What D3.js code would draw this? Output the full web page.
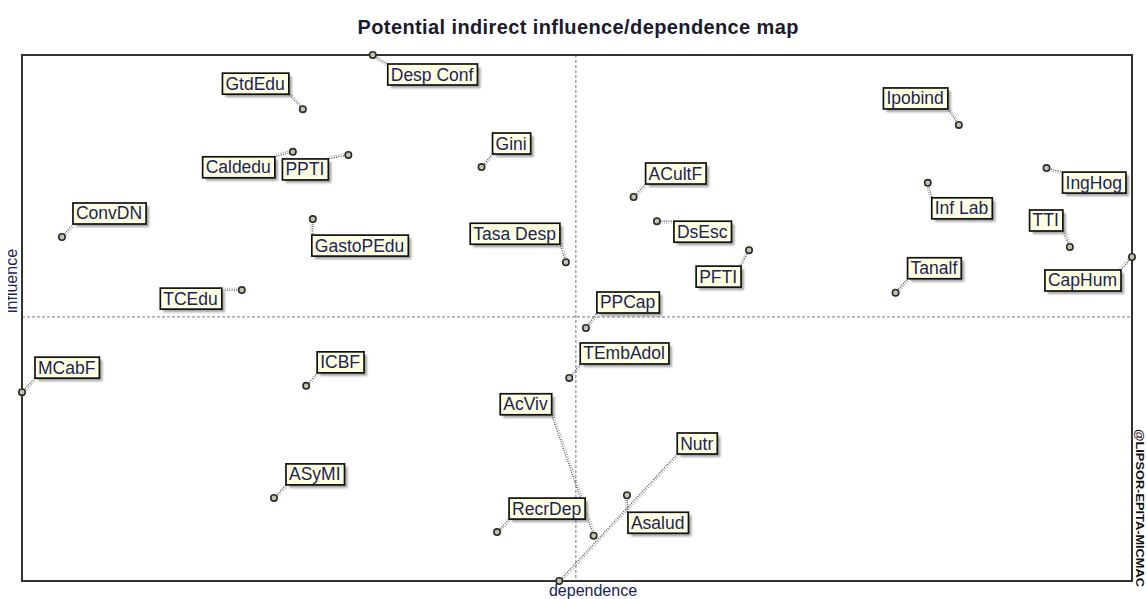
<!doctype html>
<html lang="en">
<head>
<meta charset="UTF-8">
<title>Potential indirect influence/dependence map</title>
<style>
    body { margin: 0; background: #fff; }
    svg { display: block; font-family: "Liberation Sans", Arial, sans-serif; }
    .frame { fill: none; stroke: #333; stroke-width: 2; }
    .mid { stroke: #777; stroke-width: 1; stroke-dasharray: 3,2; }
    .lbl-box { fill: #ffffe1; stroke: #111; stroke-width: 1.7; }
    .lbl-shadow { fill: #666; opacity: 0.6; }
    .lbl-text { font-size: 17.5px; fill: #1b2358; }
    .dot { fill: #c4c4a8; stroke: #2a2a2a; stroke-width: 1.6; }
</style>
</head>
<body>
<div class="chart"></div>
<script src="https://d3js.org/d3.v7.min.js"></script>
<script>
// variables (MICMAC indirect potential), normalised 0-100
const names = ['Desp Conf', 'GtdEdu', 'Caldedu', 'PPTI', 'ConvDN', 'GastoPEdu', 'TCEdu',
    'Gini', 'Tasa Desp', 'ACultF', 'DsEsc', 'PFTI', 'PPCap', 'Ipobind', 'Inf Lab',
    'IngHog', 'TTI', 'Tanalf', 'CapHum', 'MCabF', 'ICBF', 'ASyMI', 'TEmbAdol',
    'AcViv', 'Nutr', 'Asalud', 'RecrDep']
const dependence = [31.6, 25.3, 24.4, 29.4, 3.6, 26.2, 19.8,
    41.4, 49.0, 55.1, 57.2, 65.5, 50.8, 84.4, 81.6,
    92.3, 94.4, 78.7, 100, 0, 25.6, 22.7, 49.3,
    51.5, 48.4, 54.5, 42.8]
const influence = [100, 89.7, 81.6, 81.0, 65.4, 68.8, 55.3,
    78.7, 60.6, 73.0, 68.4, 62.9, 48.1, 86.7, 75.7,
    78.5, 63.5, 54.8, 61.6, 35.9, 37.1, 15.8, 38.6,
    8.6, 0, 16.3, 9.3]
const midDependence = 49.9
const midInfluence = 50.2

// where each label box sits relative to its point: [dx, dy, side of box dx refers to]
const labelPos = {
    'Desp Conf': [15, 9, 'start'], 'GtdEdu': [-14, -36, 'end'], 'Caldedu': [-18, 5, 'end'],
    'PPTI': [-20, 4, 'end'], 'ConvDN': [11, -34, 'start'], 'GastoPEdu': [-1, 16, 'start'],
    'TCEdu': [-20, -2, 'end'], 'Gini': [11, -34, 'start'], 'Tasa Desp': [-6, -39, 'end'],
    'ACultF': [12, -34, 'start'], 'DsEsc': [17, 0, 'start'], 'PFTI': [-8, 16, 'end'],
    'PPCap': [11, -36, 'start'], 'Ipobind': [-11, -37, 'end'], 'Inf Lab': [4, 15, 'start'],
    'IngHog': [16, 4, 'start'], 'TTI': [-7, -37, 'end'], 'Tanalf': [12, -35, 'start'],
    'CapHum': [-11, 13, 'end'], 'MCabF': [13, -35, 'start'], 'ICBF': [11, -34, 'start'],
    'ASyMI': [12, -34, 'start'], 'TEmbAdol': [11, -35, 'start'], 'AcViv': [-42, -142, 'end'],
    'Nutr': [118, -148, 'start'], 'Asalud': [1, 17, 'start'], 'RecrDep': [12, -34, 'start']
}

const W = 1147, H = 599
const plot = { left: 22, right: 1132, top: 55, bottom: 581 }

const data = names.map((n, i) => ({ name: n, dep: dependence[i], inf: influence[i] }))

const x = d3.scaleLinear().domain([0, 100]).range([plot.left, plot.right])
const y = d3.scaleLinear().domain([0, 100]).range([plot.bottom, plot.top])

const svg = d3.select('.chart').append('svg')
    .attr('width', W)
    .attr('height', H)

const defs = svg.append('defs')
defs.append('filter').attr('id', 'soft')
    .append('feGaussianBlur').attr('stdDeviation', 0.8)
defs.append('clipPath').attr('id', 'leftclip')
    .append('rect').attr('x', 8).attr('y', 0).attr('width', 20).attr('height', H)

// title
svg.append('text')
    .attr('x', 578)
    .attr('y', 34)
    .attr('text-anchor', 'middle')
    .attr('textLength', 441)
    .attr('lengthAdjust', 'spacing')
    .style('font-size', '20px')
    .style('font-weight', 'bold')
    .style('fill', '#1a1a2e')
    .text('Potential indirect influence/dependence map')

// quadrant lines
svg.append('line').attr('class', 'mid')
    .attr('x1', x(midDependence)).attr('x2', x(midDependence))
    .attr('y1', plot.top).attr('y2', plot.bottom)
svg.append('line').attr('class', 'mid')
    .attr('x1', plot.left).attr('x2', plot.right)
    .attr('y1', y(midInfluence)).attr('y2', y(midInfluence))

svg.append('rect').attr('class', 'frame')
    .attr('x', plot.left).attr('y', plot.top)
    .attr('width', plot.right - plot.left)
    .attr('height', plot.bottom - plot.top)

// axis titles
svg.append('text')
    .attr('x', 593).attr('y', 596)
    .attr('text-anchor', 'middle')
    .style('font-size', '16px')
    .style('fill', '#1b2358')
    .text('dependence')
svg.append('g').attr('clip-path', 'url(#leftclip)')
    .append('text')
    .attr('transform', 'translate(17,281) rotate(-90)')
    .attr('text-anchor', 'middle')
    .style('font-size', '16px')
    .style('fill', '#1b2358')
    .text('influence')
svg.append('text')
    .attr('transform', 'translate(1136,508) rotate(90)')
    .attr('text-anchor', 'middle')
    .attr('textLength', 158)
    .attr('lengthAdjust', 'spacingAndGlyphs')
    .style('font-size', '11px')
    .style('font-weight', 'bold')
    .style('fill', '#111')
    .text('@LIPSOR-EPITA-MICMAC')

// labels: measure text first so boxes fit
const lblG = svg.append('g')
const connG = lblG.append('g')
const dotG = lblG.append('g')
const boxG = lblG.append('g')

data.forEach(function(d) {
    const px = x(d.dep), py = y(d.inf)
    const pos = labelPos[d.name]
    const g = boxG.append('g')
    const t = g.append('text').attr('class', 'lbl-text').text(d.name)
    const tw = t.node().getComputedTextLength()
    const bw = tw + 7, bh = 21
    const bx = pos[2] === 'end' ? px + pos[0] - bw : px + pos[0]
    const by = py + pos[1]
    t.attr('x', bx + 3).attr('y', by + 16.5)
    g.insert('rect', 'text').attr('class', 'lbl-box')
        .attr('x', bx).attr('y', by).attr('width', bw).attr('height', bh)
    g.insert('rect', 'rect').attr('class', 'lbl-shadow')
        .attr('x', bx + 3).attr('y', by + 3).attr('width', bw).attr('height', bh)
        .attr('filter', 'url(#soft)')

    // connector: point to nearest spot on the box, drawn as a double dotted line
    const cx = Math.max(bx, Math.min(px, bx + bw))
    const cy = Math.max(by, Math.min(py, by + bh))
    const len = Math.hypot(cx - px, cy - py) || 1
    const nx = -(cy - py) / len * 1.8, ny = (cx - px) / len * 1.8
    connG.append('line')
        .attr('x1', px).attr('y1', py).attr('x2', cx).attr('y2', cy)
        .attr('stroke', '#444').attr('stroke-width', 1.2).attr('stroke-dasharray', '1,1.3')
    connG.append('line')
        .attr('x1', px + nx).attr('y1', py + ny).attr('x2', cx + nx).attr('y2', cy + ny)
        .attr('stroke', '#999').attr('stroke-width', 1.1).attr('stroke-dasharray', '1,1.3')

    dotG.append('circle').attr('class', 'dot')
        .attr('cx', px).attr('cy', py).attr('r', 3.2)
})
</script>
</body>
</html>
